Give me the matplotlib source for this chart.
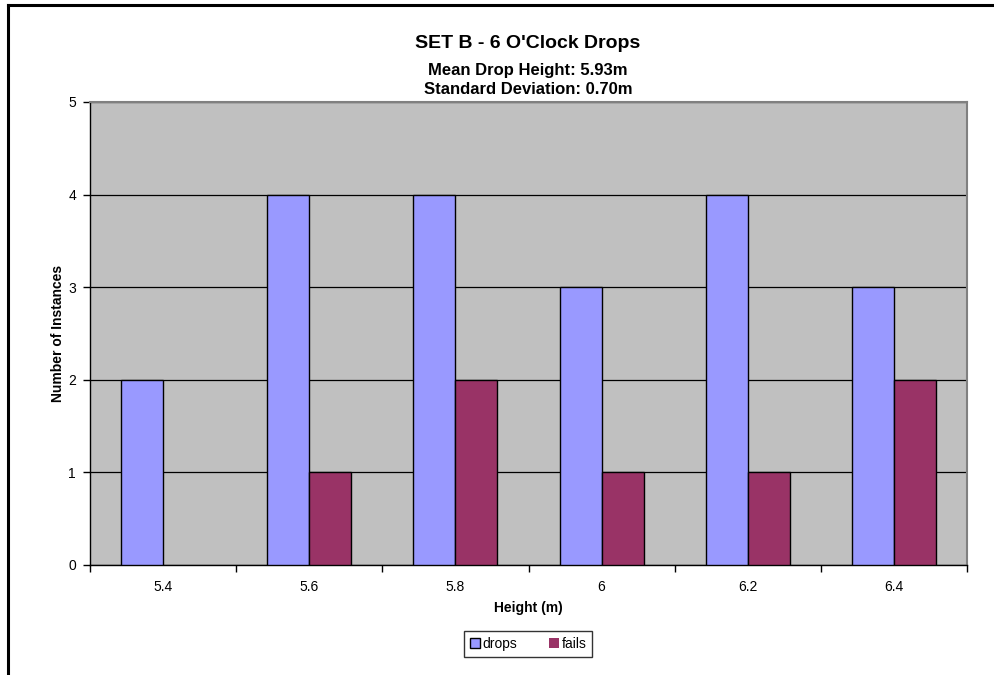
import numpy as np
import matplotlib.pyplot as plt
from matplotlib.lines import Line2D

plt.rcParams['font.family'] = ['Liberation Sans', 'DejaVu Sans']

heights = ['5.4', '5.6', '5.8', '6', '6.2', '6.4']
drops = [2, 4, 4, 3, 4, 3]
fails = [0, 1, 2, 1, 1, 2]

W, H = 994, 675
fig = plt.figure(figsize=(W / 100, H / 100), dpi=100)

# plot area in pixels
l, t, r, b = 90, 102, 967, 565
ax = fig.add_axes([l / W, 1 - b / H, (r - l) / W, (b - t) / H])
ax.set_facecolor('#C0C0C0')

x = np.arange(len(heights))
w = 0.287
ax.bar(x - w / 2, drops, w, color='#9999FF', edgecolor='black', linewidth=1, label='drops', zorder=3)
fb = ax.bar(x + w / 2, fails, w, color='#993366', edgecolor='black', linewidth=1, label='fails', zorder=3)
for p, v in zip(fb, fails):
    if v == 0:
        p.set_linewidth(0)

ax.set_xlim(-0.5, len(heights) - 0.5)
ax.set_ylim(0, 5)
ax.set_yticks(range(6))
ax.yaxis.grid(True, color='black', linewidth=0.9, zorder=1)
ax.set_axisbelow(True)

ax.set_xticks(x)
ax.set_xticklabels(heights)
ax.set_xticks(np.arange(-0.5, len(heights)), minor=True)
ax.tick_params(axis='x', which='major', length=0, pad=11, labelsize=10)
ax.tick_params(axis='x', which='minor', length=5, width=1, direction='out')
ax.tick_params(axis='y', length=5, width=1, direction='out', pad=5, labelsize=10)

for s in ['left', 'bottom']:
    ax.spines[s].set_color('black')
    ax.spines[s].set_linewidth(1)
for s in ['top', 'right']:
    ax.spines[s].set_color('#808080')
    ax.spines[s].set_linewidth(1.5)

ax.set_xlabel('Height (m)', fontsize=10, fontweight='bold', labelpad=5)
ax.set_ylabel('Number of Instances', fontsize=10, fontweight='bold', labelpad=2)

fig.text(528 / W, 1 - 44 / H, "SET B - 6 O'Clock Drops", ha='center', va='center',
         fontsize=14, fontweight='bold')
fig.text(528 / W, 1 - 71 / H, 'Mean Drop Height: 5.93m', ha='center', va='center',
         fontsize=12, fontweight='bold')
fig.text(528 / W, 1 - 90 / H, 'Standard Deviation: 0.70m', ha='center', va='center',
         fontsize=12, fontweight='bold')

leg = fig.legend(loc='center', bbox_to_anchor=(528 / W, 1 - 644 / H), ncol=2,
                 fontsize=10, frameon=True, fancybox=False, edgecolor='black',
                 handlelength=0.75, handleheight=0.75, handletextpad=0.15,
                 columnspacing=2.3, borderpad=0.4, borderaxespad=0)
leg.get_frame().set_linewidth(1)

# outer chart border (top and left visible)
fig.add_artist(Line2D([8 / W, 1], [1 - 5 / H, 1 - 5 / H], color='black', linewidth=2.2))
fig.add_artist(Line2D([8 / W, 8 / W], [1 - 5 / H, 0], color='black', linewidth=2.2))

fig.savefig('out.png', dpi=100)
